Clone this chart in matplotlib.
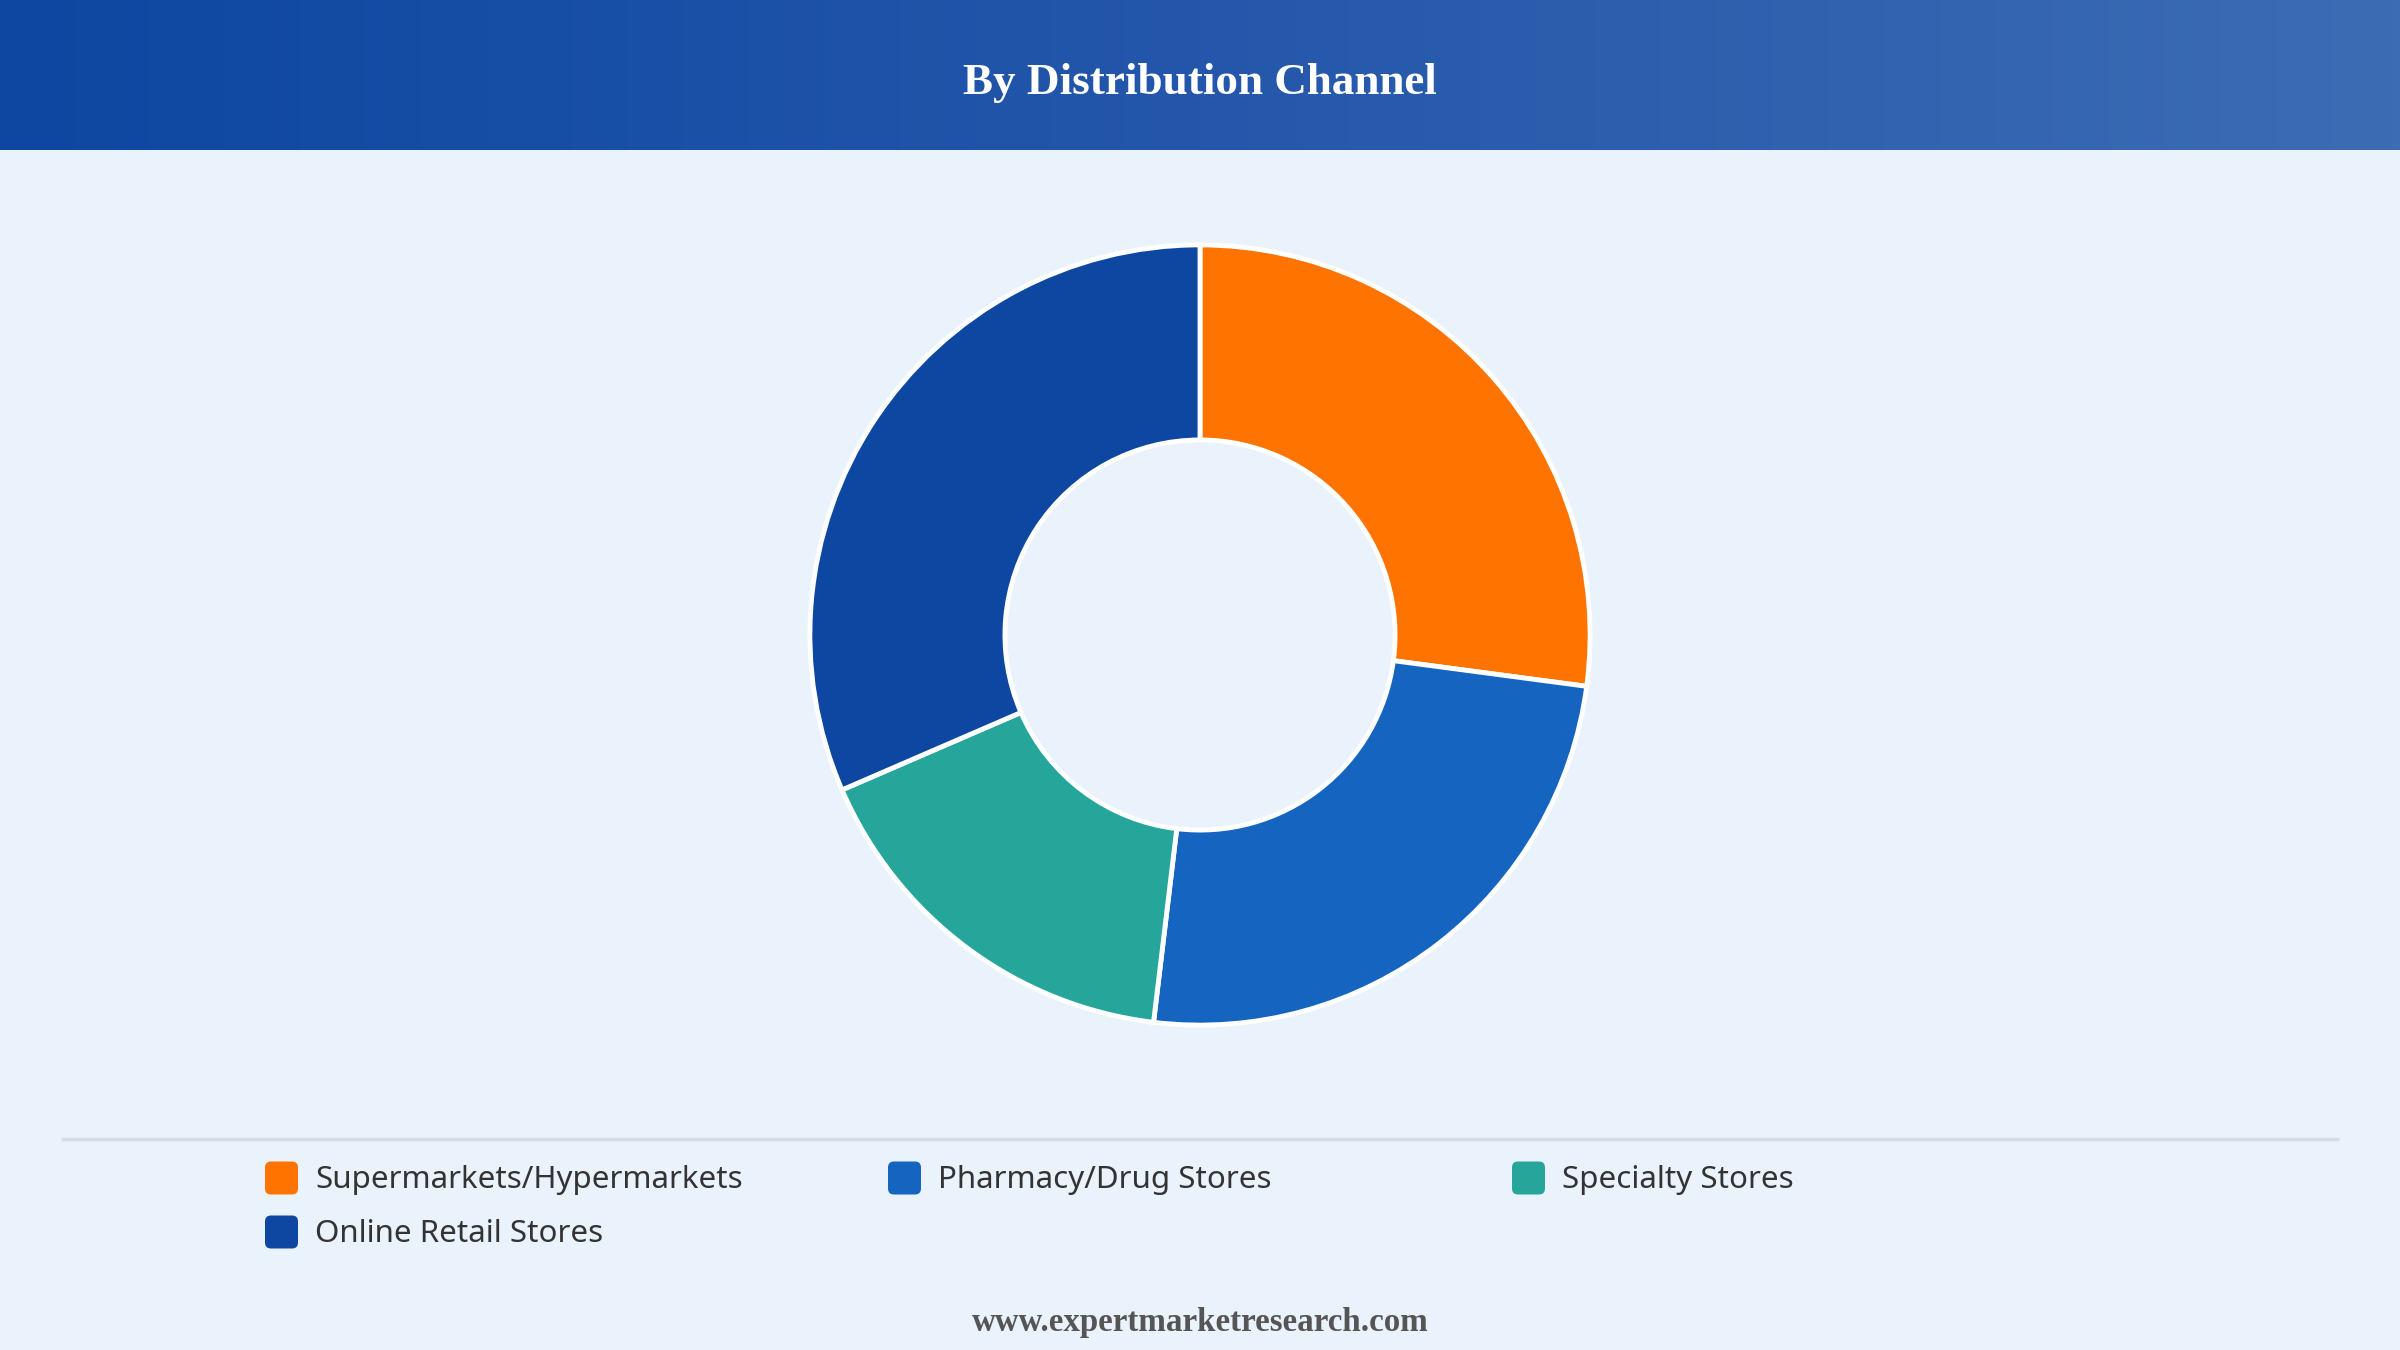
import numpy as np
import matplotlib
matplotlib.use("Agg")
import matplotlib.pyplot as plt
from matplotlib.patches import FancyBboxPatch
from matplotlib.colors import LinearSegmentedColormap

# ---- data ----
categories = ["Supermarkets/Hypermarkets", "Pharmacy/Drug Stores", "Specialty Stores", "Online Retail Stores"]
shares = [27.1, 24.8, 16.6, 31.5]
colors = ["#ff7300", "#1565c0", "#26a69a", "#0d47a1"]
title = "By Distribution Channel"
footer = "www.expertmarketresearch.com"

W, H = 2400, 1350
fig = plt.figure(figsize=(24, 13.5), dpi=100)
fig.patch.set_facecolor("#eaf2fc")

# overlay axes in pixel coords
bg = fig.add_axes([0, 0, 1, 1])
bg.set_xlim(0, W)
bg.set_ylim(H, 0)
bg.axis("off")

# header gradient
hdr_h = 150
hdr = fig.add_axes([0, 1 - hdr_h / H, 1, hdr_h / H])
cmap = LinearSegmentedColormap.from_list("hdr", ["#0d47a1", "#2457ab", "#3c6cb4"])
hdr.imshow(np.linspace(0, 1, 256)[None, :], aspect="auto", cmap=cmap, extent=[0, 1, 0, 1])
hdr.set_xlim(0, 1); hdr.set_ylim(0, 1)
hdr.axis("off")
hdr.text(0.5, 0.445, title, ha="center", va="center", color="white",
         fontsize=32.5, fontweight="bold", family="Liberation Serif")

# donut
cx, cy, r = 1200, 635, 394
pax = fig.add_axes([(cx - r) / W, 1 - (cy + r) / H, 2 * r / W, 2 * r / H])
pax.pie(shares, colors=colors, startangle=90, counterclock=False, radius=1,
        wedgeprops=dict(width=0.5, edgecolor="white", linewidth=3.5))
pax.set_xlim(-1.01, 1.01); pax.set_ylim(-1.01, 1.01)
pax.set_aspect("equal")
pax.axis("off")

# divider
bg.plot([61, 2339], [1139, 1139], color="#d8dce2", lw=2.5, solid_capstyle="butt")

# legend
col_x = [265, 888, 1512]
row_y = [1178, 1232]
sq = 33
for i, (lab, c) in enumerate(zip(categories, colors)):
    x = col_x[i % 3]
    y = row_y[i // 3]
    bg.add_patch(FancyBboxPatch((x, y - sq / 2), sq, sq,
                                boxstyle="round,pad=0,rounding_size=6",
                                facecolor=c, edgecolor="none"))
    bg.text(x + 50, y + 2, lab, ha="left", va="center", fontsize=22.5,
            color="#333333", family="Noto Sans", fontweight="medium")

# footer
bg.text(1200, 1323, footer, ha="center", va="center", fontsize=23.8,
        fontweight="bold", color="#555555", family="Liberation Serif")

fig.savefig("out.png", dpi=100, facecolor=fig.get_facecolor())
